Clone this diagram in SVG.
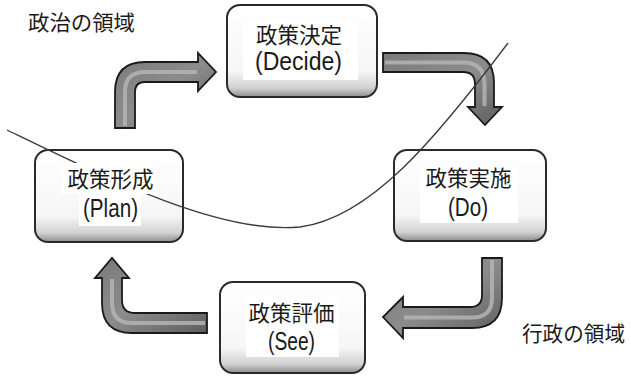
<svg xmlns="http://www.w3.org/2000/svg" width="631" height="377" viewBox="0 0 631 377">
<style>
.box{fill:url(#boxg);stroke:#2a2a2a;stroke-width:2}
.tbg{fill:#fff}
.j{font-family:"Noto Sans CJK JP",sans-serif;font-size:21.5px;fill:#1a1a1a;text-anchor:middle}
.e{font-family:"Liberation Sans",Arial,sans-serif;font-size:25px;fill:#1a1a1a;text-anchor:middle}
.lab{font-family:"Noto Sans CJK JP",sans-serif;font-size:21px;fill:#1a1a1a}
.arr{fill:url(#arrg);stroke:#1a1a1a;stroke-width:1.8;stroke-linejoin:miter}
.hl{fill:none;stroke:#b4b4b4;stroke-width:4;opacity:0.85}
.curve{fill:none;stroke:#3a3a3a;stroke-width:1.3}
</style>
<defs>
<linearGradient id="boxg" x1="0" y1="0" x2="0" y2="1">
<stop offset="0" stop-color="#ffffff"/>
<stop offset="0.72" stop-color="#f6f6f6"/>
<stop offset="0.9" stop-color="#d2d2d2"/>
<stop offset="1" stop-color="#8e8e8e"/>
</linearGradient>
<linearGradient id="arrg" x1="0" y1="0" x2="1" y2="1">
<stop offset="0" stop-color="#7a7a7a"/>
<stop offset="0.5" stop-color="#8c8c8c"/>
<stop offset="1" stop-color="#5e5e5e"/>
</linearGradient>
<mask id="tm">
<rect x="0" y="0" width="631" height="377" fill="#fff"/>
<rect x="243" y="20" width="115" height="60" fill="#000"/>
<rect x="61" y="163" width="95" height="31" fill="#000"/>
<rect x="79" y="194" width="62" height="32" fill="#000"/>
<rect x="420" y="165" width="98" height="58" fill="#000"/>
<rect x="246" y="297" width="93" height="60" fill="#000"/>
</mask>
</defs>
<rect width="631" height="377" fill="#fff"/>
<g id="connectors">
<g id="arrow-plan-decide">
<path class="arr" d="M115,128 L115,92 Q115,62 145,62 L198,62 L198,53 L216,72 L198,91 L198,82 L145,82 Q135,82 135,92 L135,128 Z"/>
<path class="hl" d="M125,126 L125,92 Q125,72 145,72 L197,72"/>
</g>
<g id="arrow-decide-do">
<path class="arr" d="M383,53 L464,53 Q494,53 494,83 L494,107 L502,107 L485,125 L468,107 L475,107 L475,84 Q475,72 463,72 L383,72 Z"/>
<path class="hl" d="M385,62.5 L463,62.5 Q484.5,62.5 484.5,84 L484.5,106"/>
</g>
<g id="arrow-do-see">
<path class="arr" d="M482,258 L502,258 L502,298 Q502,328 472,328 L403,328 L403,338 L383,317 L403,297 L403,307 L470,307 Q482,307 482,295 Z"/>
<path class="hl" d="M492,260 L492,298 Q492,317.5 472,317.5 L404,317.5"/>
</g>
<g id="arrow-see-plan">
<path class="arr" d="M207,313 L135,313 Q122,313 122,300 L122,278 L129,278 L112,258 L95,278 L102,278 L102,303 Q102,333 132,333 L207,333 Z"/>
<path class="hl" d="M205,323 L132,323 Q112,323 112,303 L112,279"/>
</g>
</g>
<g id="node-decide">
<rect class="box" x="227" y="5" width="150" height="92" rx="13"/>
<rect class="tbg" x="243" y="20" width="115" height="60"/>
<text class="j" x="299" y="43">政策決定</text>
<text class="e" x="298.5" y="70" textLength="87" lengthAdjust="spacingAndGlyphs">(Decide)</text>
</g>
<g id="node-plan">
<rect class="box" x="35" y="150" width="148" height="92" rx="13"/>
<rect class="tbg" x="61" y="163" width="95" height="31"/>
<rect class="tbg" x="79" y="194" width="62" height="32"/>
<text class="j" x="110.5" y="187">政策形成</text>
<text class="e" x="110.5" y="217" textLength="55" lengthAdjust="spacingAndGlyphs">(Plan)</text>
</g>
<g id="node-do">
<rect class="box" x="394" y="150" width="152" height="91" rx="13"/>
<rect class="tbg" x="420" y="165" width="98" height="58"/>
<text class="j" x="468.5" y="186">政策実施</text>
<text class="e" x="468" y="216" textLength="40" lengthAdjust="spacingAndGlyphs">(Do)</text>
</g>
<g id="node-see">
<rect class="box" x="220" y="282" width="145" height="91" rx="13"/>
<rect class="tbg" x="246" y="297" width="93" height="60"/>
<text class="j" x="291.5" y="321">政策評価</text>
<text class="e" x="291.5" y="350" textLength="47" lengthAdjust="spacingAndGlyphs">(See)</text>
</g>
<path class="curve" mask="url(#tm)" d="M7,130 C100,175 220,235 300,227 C370,218 435,140 508,43"/>
<text class="lab" x="28" y="30" textLength="107" lengthAdjust="spacingAndGlyphs">政治の領域</text>
<text class="lab" x="522" y="341" textLength="103" lengthAdjust="spacingAndGlyphs">行政の領域</text>
</svg>
